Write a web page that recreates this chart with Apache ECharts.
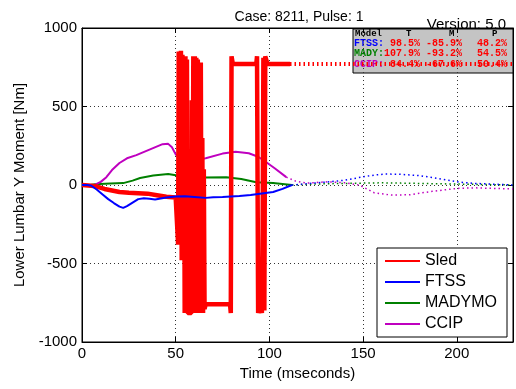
<!DOCTYPE html>
<html><head><meta charset="utf-8">
<script src="https://cdn.jsdelivr.net/npm/echarts@6/dist/echarts.min.js"></script>
<style>html,body{margin:0;padding:0;background:#fff}#c{width:516px;height:389px}</style>
</head><body><div id="c"></div>
<script>
const xTicks = [0, 50, 100, 150, 200];
const yTicks = [-1000, -500, 0, 500, 1000];
const seriesNames = ['Sled', 'FTSS', 'MADYMO', 'CCIP'];

const sledSolid = [[0,0],[5,-5],[8,-10],[12,-25],[16,-35],[20,-45],[25,-50],[30,-52],[35,-55],[40,-65],[45,-75],[50,-80],[51,-85],
 [51.3,-380],[51.6,850],[52,860],[52.4,-300],[52.8,855],[53.2,-480],[53.6,830],[54,-480],[54.4,820],[54.8,-815],[55.2,820],
 [55.6,-815],[56,800],[56.4,-815],[58.4,-815],[58.6,540],[59,-700],[59.4,820],[59.8,-815],[60.2,820],[60.6,-815],[61,810],
 [61.4,-815],[61.8,800],[62.2,-815],[62.6,780],[63,-815],[63.4,780],[63.8,-815],[64.2,300],[64.6,-815],[65,100],[65.4,-790],
 [66,-760],[70,-760],[75,-760],[79,-760],[79.4,-815],[79.8,820],[80.5,770],[85,770],[90,770],[93,770],[93.4,820],[94,-815],
 [95,-760],[96,-815],[96.4,-300],[96.8,810],[97.3,-800],[97.8,820],[99,770],[105,770],[111,770]];
const sledDotted = [[111,770],[150,770],[200,770],[230,770]];

const ftssSolid = [[0,0],[3,0],[5,-5],[8,-30],[11,-60],[14,-90],[17,-115],[20,-138],[22,-146],[24,-135],[27,-112],[30,-90],[33,-85],[36,-88],
 [39,-92],[42,-86],[45,-80],[50,-74],[55,-72],[60,-76],[66,-82],[70,-78],[75,-76],[84,-70],[90,-64],[95,-56],[102,-45],[107,-25],[112,0]];
const ftssDotted = [[112,0],[120,8],[130,18],[140,30],[150,52],[157,65],[162,70],[170,68],[180,60],[190,42],[201,19],[210,10],[220,5],[230,0]];

const madySolid = [[0,0],[5,2],[7,5],[15,10],[22,12],[27,28],[31,45],[38,60],[46,70],[50,62],[54,50],[65,48],[77,50],[85,38],[93,18],[102,12],[107,6],[112,0]];
const madyDotted = [[112,0],[120,4],[130,8],[140,10],[150,12],[160,14],[170,12],[180,10],[190,8],[200,6],[210,4],[220,2],[230,0]];

const ccipSolid = [[0,0],[5,0],[7,2],[10,20],[13,50],[16,95],[20,140],[24,170],[29,190],[36,225],[43,260],[46,262],[48,240],[50,195],[53,165],
 [56,150],[60,158],[66,170],[75,200],[82,212],[89,202],[94,180],[98,148],[103,105],[109,50]];
const ccipDotted = [[109,50],[114,25],[120,12],[130,20],[140,15],[148,0],[152,-25],[156,-50],[165,-64],[175,-62],[187,-40],[200,-22],[210,-18],[220,-22],[230,-25]];

const tableHeader = ['Model', 'T', 'M', 'P'];
const tableRows = [
  {name: 'FTSS:', vals: ['98.5%', '-85.9%', '48.2%']},
  {name: 'MADY:', vals: ['107.9%', '-93.2%', '54.5%']},
  {name: 'CCIP:', vals: ['84.4%', '-67.6%', '50.4%']}
];

const colors = {Sled: '#ff0000', FTSS: '#0000ff', MADYMO: '#008000', CCIP: '#bf00bf'};
const FONT = '"Liberation Sans", Arial, sans-serif';
const MONO = '"Liberation Mono", "DejaVu Sans Mono", monospace';

const chart = echarts.init(document.getElementById('c'));

function line(name, data, color, width, dotted, z, showLegend) {
  return {
    type: 'line', name: showLegend ? name : name + '_dot', data: data, symbol: 'none', showSymbol: false, z: z,
    lineStyle: {color: color, width: width, type: dotted ? [1.5, 3] : 'solid'},
    itemStyle: {color: color}, silent: true, animation: false
  };
}

const rowColors = ['#0000ff', '#008000', '#bf00bf'];
const tableElems = [
  {type: 'rect', shape: {x: 353, y: 29, width: 160, height: 44}, style: {fill: '#c4c4c4', stroke: '#000', lineWidth: 1}},
  {type: 'text', x: 355, y: 29, style: {text: tableHeader[0], font: 'bold 9px ' + MONO, fill: '#000'}},
  {type: 'text', x: 406, y: 29, style: {text: tableHeader[1], font: 'bold 9px ' + MONO, fill: '#000'}},
  {type: 'text', x: 449, y: 29, style: {text: tableHeader[2], font: 'bold 9px ' + MONO, fill: '#000'}},
  {type: 'text', x: 492, y: 29, style: {text: tableHeader[3], font: 'bold 9px ' + MONO, fill: '#000'}}
];
tableRows.forEach((r, i) => {
  const y = 38 + i * 10.5;
  tableElems.push({type: 'text', x: 354, y: y, style: {text: r.name, font: 'bold 10px ' + MONO, fill: rowColors[i]}});
  const xs = [390, 426, 477];
  r.vals.forEach((v, j) => {
    let x = xs[j];
    if (j === 0 && v.length === 6) x -= 6;
    tableElems.push({type: 'text', x: x, y: y, style: {text: v, font: 'bold 10px ' + MONO, fill: '#ff0000'}});
  });
});

const option = {
  animation: false,
  backgroundColor: '#fff',
  grid: {left: 82, right: 3, top: 28, bottom: 47, show: true, borderColor: '#000', borderWidth: 1, backgroundColor: '#fff'},
  title: [
    {text: 'Case: 8211, Pulse: 1', left: 294, top: 5, textAlign: 'center',
     textStyle: {fontFamily: FONT, fontSize: 14, fontWeight: 'normal', color: '#000'}},
    {text: 'Version: 5.0', right: 5, top: 12,
     textStyle: {fontFamily: FONT, fontSize: 15, fontWeight: 'normal', color: '#000'}}
  ],
  legend: {
    data: seriesNames, orient: 'vertical', right: 9, top: 248, width: 126,
    padding: [5, 10, 5, 7], itemGap: 5, itemWidth: 35, itemHeight: 15,
    backgroundColor: '#fff', borderColor: '#000', borderWidth: 1,
    textStyle: {fontFamily: FONT, fontSize: 16, color: '#000'},
    itemStyle: {opacity: 0, borderWidth: 0},
    selectedMode: false
  },
  xAxis: [{
    type: 'value', min: 0, max: 230, interval: 50,
    name: 'Time (mseconds)', nameLocation: 'middle', nameGap: 24,
    nameTextStyle: {fontFamily: FONT, fontSize: 15, color: '#000'},
    axisLine: {show: true, onZero: false, lineStyle: {color: '#000', width: 1}},
    axisTick: {show: true, inside: true, length: 5, lineStyle: {color: '#000'}},
    axisLabel: {fontFamily: FONT, fontSize: 15, color: '#000', margin: 4,
      formatter: v => xTicks.indexOf(v) >= 0 ? String(v) : ''},
    splitLine: {show: true, lineStyle: {color: '#333', type: [1, 3], width: 1}}
  }, {
    type: 'value', min: 0, max: 230, interval: 50, position: 'top',
    axisLine: {show: true, onZero: false, lineStyle: {color: '#000'}},
    axisTick: {show: true, inside: true, length: 5, lineStyle: {color: '#000'}},
    axisLabel: {show: false}, splitLine: {show: false}
  }],
  yAxis: [{
    type: 'value', min: -1000, max: 1000, interval: 500,
    name: 'Lower Lumbar Y Moment [Nm]', nameLocation: 'middle', nameGap: 53,
    nameTextStyle: {fontFamily: FONT, fontSize: 15, color: '#000'},
    axisLine: {show: true, onZero: false, lineStyle: {color: '#000', width: 1}},
    axisTick: {show: true, inside: true, length: 5, lineStyle: {color: '#000'}},
    axisLabel: {fontFamily: FONT, fontSize: 15, color: '#000', margin: 5,
      formatter: v => yTicks.indexOf(v) >= 0 ? String(v) : ''},
    splitLine: {show: true, lineStyle: {color: '#333', type: [1, 3], width: 1}}
  }, {
    type: 'value', min: -1000, max: 1000, interval: 500, position: 'right',
    axisLine: {show: true, onZero: false, lineStyle: {color: '#000'}},
    axisTick: {show: true, inside: true, length: 5, lineStyle: {color: '#000'}},
    axisLabel: {show: false}, splitLine: {show: false}
  }],
  series: [
    line('MADYMO', madyDotted, colors.MADYMO, 1.5, true, 2, false),
    line('CCIP', ccipDotted, colors.CCIP, 1.5, true, 2, false),
    line('FTSS', ftssDotted, colors.FTSS, 1.5, true, 2, false),
    line('Sled', sledDotted, colors.Sled, 4, true, 3, false),
    line('MADYMO', madySolid, colors.MADYMO, 2, false, 3, true),
    line('CCIP', ccipSolid, colors.CCIP, 2, false, 3, true),
    line('Sled', sledSolid, colors.Sled, 4.5, false, 4, true),
    line('FTSS', ftssSolid, colors.FTSS, 2, false, 5, true)
  ],
  graphic: [{type: 'group', z: 100, children: tableElems}]
};
chart.setOption(option);
</script></body></html>
